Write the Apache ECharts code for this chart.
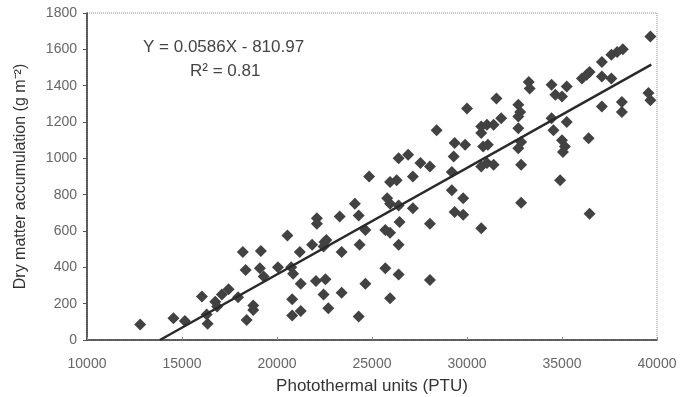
<!DOCTYPE html>
<html>
<head>
<meta charset="utf-8">
<script src="https://cdn.jsdelivr.net/npm/echarts@6/dist/echarts.min.js"></script>
<style>
  html, body { margin: 0; padding: 0; background: #fff; }
  #chart { width: 680px; height: 397px; }
</style>
</head>
<body>
<div id="chart"></div>
<script>
// photothermal units (x) and dry matter (y)
var ptu = [12800, 14550, 15150, 16050, 16300, 16350, 16750, 16850, 17100, 17450,
  17950, 18200, 18350, 18400, 18750, 18750, 19150, 19100, 19300, 20050,
  20550, 20750, 20850, 20800, 20800, 21250, 21250, 21200, 21850, 22100,
  22100, 22050, 22550, 22450, 22600, 22450, 22700, 23300, 23400, 23400,
  24100, 24300, 24350, 24650, 24300, 24650, 24850, 25700, 25700, 25950,
  25950, 25800, 25950, 25950, 26300, 26400, 26450, 26400, 26400, 26400,
  26900, 27150, 27150, 27550, 28050, 28050, 28050, 28400, 29200, 29200,
  29300, 29800, 29350, 29800, 29350, 29900, 30000, 30750, 30750, 31050,
  31400, 30750, 30850, 31100, 31550, 31800, 30750, 31050, 31400, 32700,
  32800, 32700, 32700, 32850, 32700, 32850, 32850, 33250, 33300, 34450,
  34650, 35000, 35250, 34450, 34550, 35250, 35000, 35150, 35050, 34900,
  36050, 36300, 36450, 37100, 37100, 37600, 36400, 37100, 37600, 37900,
  38200, 38150, 38150, 39650, 39550, 39650, 36450, 22500];
var dryMatter = [85, 120, 105, 240, 140, 90, 210, 185, 250, 280,
  235, 485, 385, 110, 190, 165, 490, 395, 350, 400,
  575, 400, 365, 225, 135, 160, 310, 485, 525, 670,
  640, 325, 335, 515, 550, 250, 175, 680, 485, 260,
  750, 685, 525, 310, 130, 605, 900, 395, 605, 590,
  230, 780, 750, 870, 880, 740, 650, 525, 360, 1000,
  1020, 725, 900, 975, 955, 640, 330, 1155, 825, 925,
  1010, 780, 705, 690, 1085, 1075, 1275, 615, 1175, 1185,
  1185, 1140, 1065, 1075, 1330, 1220, 955, 975, 965, 1295,
  1255, 1230, 1165, 1090, 1055, 965, 755, 1420, 1385, 1405,
  1350, 1340, 1395, 1220, 1155, 1200, 1100, 1065, 1035, 880,
  1440, 1460, 1475, 1530, 1450, 1440, 1110, 1285, 1570, 1585,
  1600, 1310, 1255, 1670, 1360, 1320, 695, 540];

// fitted regression
var slope = 0.0586;
var intercept = -810.97;
var fitRange = [-intercept / slope, 39700];

var points = ptu.map(function (x, i) { return [x, dryMatter[i]]; });
var fitLine = fitRange.map(function (x) { return [x, slope * x + intercept]; });

var font = '"Liberation Sans", Arial, sans-serif';
var chart = echarts.init(document.getElementById('chart'));
chart.setOption({
    animation: false,
    grid: {
        left: 87, right: 23, top: 13, bottom: 57,
        containLabel: false,
        outerBoundsMode: 'none',
        show: true,
        borderColor: '#888',
        borderType: 'dotted',
        borderWidth: 1
    },
    xAxis: {
        type: 'value',
        min: 10000, max: 40000, interval: 5000,
        name: 'Photothermal units (PTU)',
        nameLocation: 'middle',
        nameGap: 38,
        nameTextStyle: { fontFamily: font, fontSize: 17, color: '#333' },
        axisLine: { lineStyle: { color: '#333', width: 1.5 } },
        axisTick: { show: true, inside: true, length: 3, lineStyle: { color: '#888' } },
        axisLabel: {
            fontFamily: font, fontSize: 14, color: '#666', margin: 17,
            formatter: function (v) { return String(v); }
        },
        splitLine: { show: false }
    },
    yAxis: {
        type: 'value',
        min: 0, max: 1800, interval: 200,
        name: 'Dry matter accumulation (g m\u207B\u00B2)',
        nameLocation: 'middle',
        nameGap: 58,
        nameTextStyle: { fontFamily: font, fontSize: 16, color: '#333' },
        axisLine: { lineStyle: { color: '#333', width: 1.5 } },
        axisTick: { show: true, length: 4, lineStyle: { color: '#555' } },
        axisLabel: {
            fontFamily: font, fontSize: 14, color: '#666', margin: 10,
            formatter: function (v) { return String(v); }
        },
        splitLine: { show: false }
    },
    graphic: [
        {
            type: 'text', left: 143, top: 39,
            style: { text: 'Y = 0.0586X - 810.97', font: '17px ' + font, fill: '#444' }
        },
        {
            type: 'text', left: 190, top: 63,
            style: { text: 'R\u00B2 = 0.81', font: '17px ' + font, fill: '#444' }
        }
    ],
    series: [
        {
            type: 'scatter',
            data: points,
            symbol: 'diamond',
            symbolSize: 12,
            itemStyle: { color: '#424242', opacity: 1 }
        },
        {
            type: 'line',
            data: fitLine,
            symbol: 'none',
            lineStyle: { color: '#2a2a2a', width: 2.5 },
            z: 3
        }
    ]
});
</script>
</body>
</html>
